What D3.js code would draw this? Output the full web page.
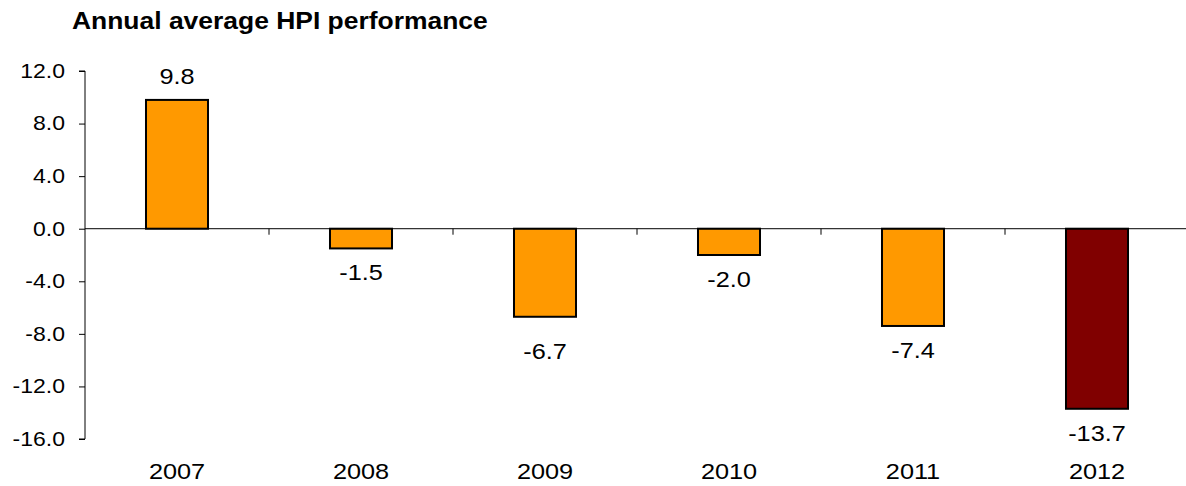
<!DOCTYPE html>
<html><head><meta charset="utf-8">
<script src="https://cdn.jsdelivr.net/npm/d3@7"></script>
<style>
html,body{margin:0;padding:0;background:#fff;}
text{font-family:"Liberation Sans",Arial,sans-serif;fill:#000;}
</style>
</head><body>
<svg id="chart" width="1186" height="486"></svg>
<script>
const categories = ["2007","2008","2009","2010","2011","2012"];
const values = [9.8, -1.5, -6.7, -2.0, -7.4, -13.7];
const tickValues = [12, 8, 4, 0, -4, -8, -12, -16];
const title = "Annual average HPI performance";

(function () {
const svg = d3.select("#chart");
const W = 1186;
const pLeft = 85, pRight = 1189, pTop = 71, pBottom = 439;
const SX = 1.15;

const x = d3.scaleBand().domain(categories).range([pLeft, pRight]).paddingInner(0.663).paddingOuter(0.3315);
const y = d3.scaleLinear().domain([-16, 12]).range([pBottom, pTop]);
const step = x.step();

function place(sel, fx, fy) {
  sel.attr("transform", (d, i) => `translate(${fx(d, i)},${fy(d, i)}) scale(${SX},1)`);
}

svg.append("text").attr("transform", `translate(72,29) scale(${SX},1)`)
  .attr("font-size", 23).attr("font-weight", "bold").text(title);

// y axis (ticks via d3 axis, labels placed with horizontal stretch)
const yAxis = d3.axisLeft(y).tickValues(tickValues).tickSize(6).tickFormat("");
const gy = svg.append("g").attr("transform", `translate(${pLeft},0)`).call(yAxis);
gy.select(".domain").attr("stroke", "#000").attr("stroke-width", 1).attr("d", `M-6,${pTop}H0V${pBottom}H-6`);
gy.selectAll(".tick line").attr("stroke", "#000");
gy.selectAll(".tick text").remove();
const yl = svg.append("g").selectAll("text").data(tickValues).join("text")
  .attr("text-anchor", "end").attr("dy", "0.34em").attr("font-size", 20)
  .text(d => d.toFixed(1));
place(yl, () => pLeft - 20, d => y(d));

// bars
svg.append("g").selectAll("rect").data(values).join("rect")
  .attr("x", (d, i) => x(categories[i]))
  .attr("width", x.bandwidth())
  .attr("y", d => y(Math.max(0, d)))
  .attr("height", d => Math.abs(y(d) - y(0)))
  .attr("fill", (d, i) => i === categories.length - 1 ? "#800000" : "#FF9900")
  .attr("stroke", "#000").attr("stroke-width", 2);

// zero line + category ticks
const y0 = y(0);
svg.append("line").attr("x1", pLeft).attr("x2", W).attr("y1", y0).attr("y2", y0)
  .attr("stroke", "#000").attr("stroke-width", 1);
svg.append("g").selectAll("line").data(categories.slice(1)).join("line")
  .attr("x1", d => x(d) - step * 0.3315).attr("x2", d => x(d) - step * 0.3315)
  .attr("y1", y0).attr("y2", y0 + 6).attr("stroke", "#000").attr("stroke-width", 1);

// value labels
const nudge = {"2009": 10};
const vl = svg.append("g").selectAll("text").data(values).join("text")
  .attr("text-anchor", "middle").attr("font-size", 22)
  .text(d => d.toFixed(1));
place(vl, (d, i) => x(categories[i]) + x.bandwidth() / 2,
  (d, i) => d >= 0 ? y(d) - 16 : y(d) + 32 + (nudge[categories[i]] || 0));

// category labels
const cl = svg.append("g").selectAll("text").data(categories).join("text")
  .attr("text-anchor", "middle").attr("font-size", 22)
  .text(d => d);
place(cl, d => x(d) + x.bandwidth() / 2, () => 479);
})();
</script>
</body></html>
